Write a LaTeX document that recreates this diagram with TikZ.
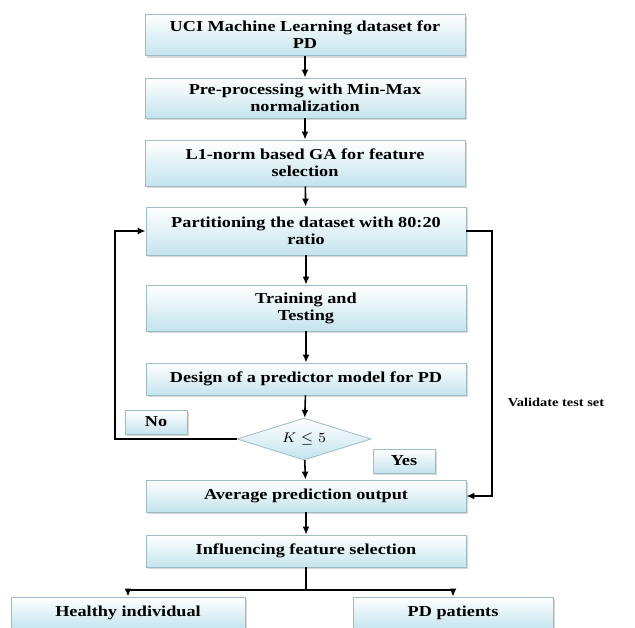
\documentclass[tikz,border=0pt]{standalone}
\usepackage{fontspec}
\setmainfont{Liberation Serif}[FakeStretch=1.2]
\usetikzlibrary{shapes.geometric,shadows,arrows.meta}
\definecolor{boxbot}{HTML}{C4E4EE}
\definecolor{boxline}{HTML}{9DBBC6}
\tikzset{
  stage/.style={draw=boxline, line width=0.4pt, top color=white, bottom color=boxbot,
    drop shadow={shadow xshift=1.2pt, shadow yshift=-1.2pt, fill=black!30},
    minimum width=160pt, align=center, inner sep=1pt,
    font=\fontsize{7.6}{8.6}\selectfont\bfseries},
  tag/.style={stage, minimum width=31pt, minimum height=12pt},
  check/.style={diamond, draw=boxline, line width=0.4pt, top color=white, bottom color=boxbot,
    minimum width=67pt, minimum height=21pt, inner sep=0pt, aspect=3,
    font=\fontsize{7.5}{8}\selectfont},
  flow/.style={-{Latex[length=4pt,width=3.5pt]}, line width=0.8pt},
  wire/.style={line width=0.8pt},
}
\begin{document}
\begin{tikzpicture}[x=0.5pt,y=-0.5pt]
  \useasboundingbox[fill=white] (0,0) rectangle (635,627);
  \path
  (305,35) node[stage,minimum height=20.5pt](uci) {UCI Machine Learning dataset for\\PD}
  (305,98) node[stage,minimum height=20pt](pre) {Pre-processing with Min-Max\\normalization}
  (305,163) node[stage,minimum height=23pt](ga) {L1-norm based GA for feature\\selection}
  (306,231) node[stage,minimum height=24pt](part) {Partitioning the dataset with 80:20\\ratio}
  (306,308) node[stage,minimum height=23pt](train) {Training and\\Testing}
  (306,379) node[stage,minimum height=16pt](design) {Design of a predictor model for PD}
  (304,439) node[check](dia) {$K \leq 5$}
  (156,422) node[tag](no) {No}
  (404,461) node[tag](yes) {Yes}
  (306,496) node[stage,minimum height=16pt](avg) {Average prediction output}
  (306,551) node[stage,minimum height=16pt](infl) {Influencing feature selection}
  (128,613) node[stage,minimum width=117pt,minimum height=16pt](heal) {Healthy individual}
  (453,613) node[stage,minimum width=100pt,minimum height=16pt](pd) {PD patients}
  (556,402) node[font=\fontsize{6}{7}\selectfont\bfseries](valid) {Validate test set}
  ;
  \coordinate (back) at (115,439);
  \coordinate (side) at (492,231);
  \coordinate (split) at (306,590);

  \draw[flow] (uci) -- (pre);
  \draw[flow] (pre) -- (ga);
  \draw[flow] (ga) -- (part);
  \draw[flow] (part) -- (train);
  \draw[flow] (train) -- (design);
  \draw[flow] (design) -- (dia);
  \draw[flow] (dia) -- (avg);
  \draw[flow] (avg) -- (infl);
  \draw[flow] (dia.west) -- (back) |- (part.west);
  \draw[flow] (part.east) -- (side) |- (avg.east);
  \draw[wire] (infl) -- (split);
  \draw[flow] (split) -| (heal);
  \draw[flow] (split) -| (pd);
\end{tikzpicture}
\end{document}
